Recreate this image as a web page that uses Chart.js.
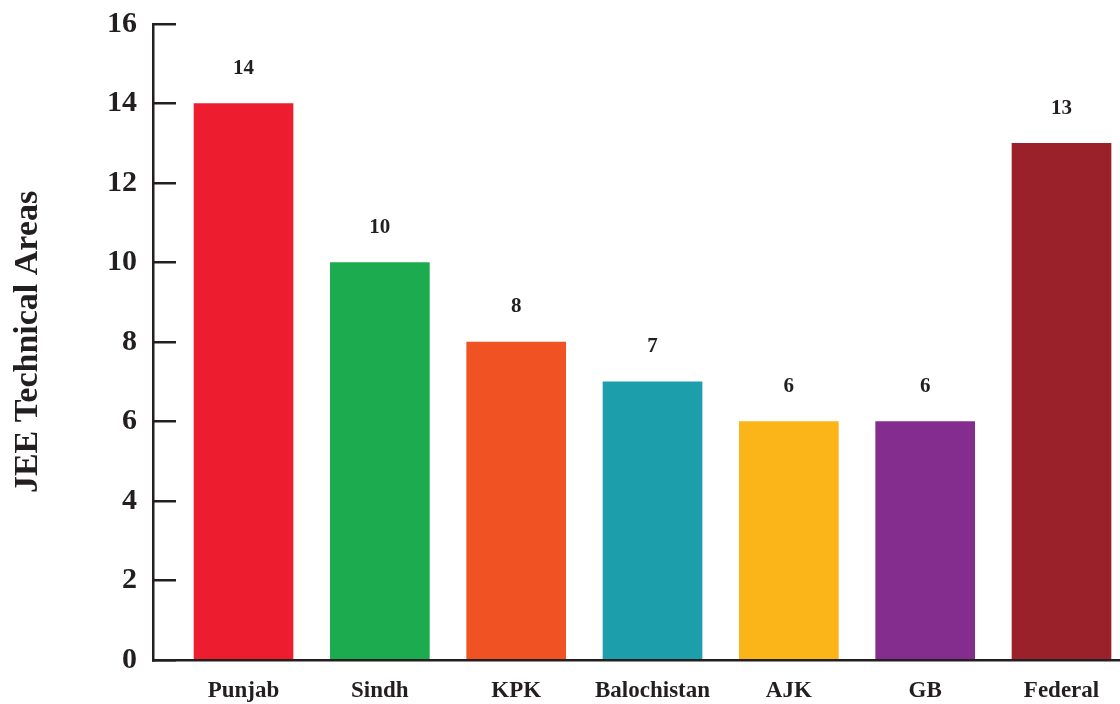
<!DOCTYPE html>
<html>
<head>
<meta charset="utf-8">
<script src="https://cdn.jsdelivr.net/npm/chart.js@4/dist/chart.umd.min.js"></script>
<style>
  html, body { margin: 0; padding: 0; background: #ffffff; overflow: hidden; }
  canvas { display: block; }
</style>
</head>
<body>
<canvas id="chart" width="1120" height="704"></canvas>
<script>
const categories = ['Punjab', 'Sindh', 'KPK', 'Balochistan', 'AJK', 'GB', 'Federal'];
const areaCounts = [14, 10, 8, 7, 6, 6, 13];
const barColors = ['#ED1C2E', '#1DAB50', '#F05224', '#1C9EAB', '#FBB519', '#852D8F', '#9A212A'];
const yTicks = [0, 2, 4, 6, 8, 10, 12, 14, 16];

const ink = '#231F20';
const serif = "'Liberation Serif', 'Times New Roman', serif";

// Writes each bar's count above it
const valueLabels = {
  id: 'valueLabels',
  afterDatasetsDraw(chart) {
    const ctx = chart.ctx;
    const meta = chart.getDatasetMeta(0);
    ctx.save();
    ctx.fillStyle = ink;
    ctx.font = `bold 21px ${serif}`;
    ctx.textAlign = 'center';
    ctx.textBaseline = 'middle';
    meta.data.forEach((bar, i) => {
      ctx.fillText(String(areaCounts[i]), bar.x, bar.y - 35);
    });
    ctx.restore();
  }
};

new Chart(document.getElementById('chart'), {
  type: 'bar',
  data: {
    datasets: [{
      data: areaCounts.map((v, i) => ({ x: i, y: v })),
      backgroundColor: barColors,
      borderWidth: 0,
      barThickness: 99
    }]
  },
  options: {
    responsive: false,
    animation: false,
    layout: { padding: { top: 24, right: 0, bottom: 0, left: 0 } },
    plugins: { legend: { display: false }, tooltip: { enabled: false } },
    scales: {
      x: {
        type: 'linear',
        offset: false,
        min: -0.664,
        max: 6.429,
        afterBuildTicks: s => { s.ticks = categories.map((_, i) => ({ value: i })); },
        afterFit: s => { s.height = 44; },
        grid: { display: true, offset: false, drawOnChartArea: false, drawTicks: false },
        border: { display: true, color: ink, width: 2.5 },
        ticks: {
          autoSkip: false,
          maxRotation: 0,
          padding: 17,
          color: ink,
          font: { family: serif, size: 23, weight: 'bold' },
          callback: v => categories[v]
        }
      },
      y: {
        min: 0,
        max: 16,
        afterBuildTicks: s => { s.ticks = yTicks.map(v => ({ value: v })); },
        afterFit: s => { s.width = 153; s.paddingTop = 0; s.paddingBottom = 0; },
        grid: { drawOnChartArea: false, drawTicks: true, tickLength: -23, color: ink, lineWidth: 2.5 },
        border: { display: true, color: ink, width: 2.5 },
        ticks: {
          padding: 39,
          color: ink,
          font: { family: serif, size: 30, weight: 'bold' }
        },
        title: {
          display: true,
          text: 'JEE Technical Areas',
          color: ink,
          padding: { top: 8, bottom: 0 },
          font: { family: serif, size: 34, weight: 'bold' }
        }
      }
    }
  },
  plugins: [valueLabels]
});
</script>
</body>
</html>
